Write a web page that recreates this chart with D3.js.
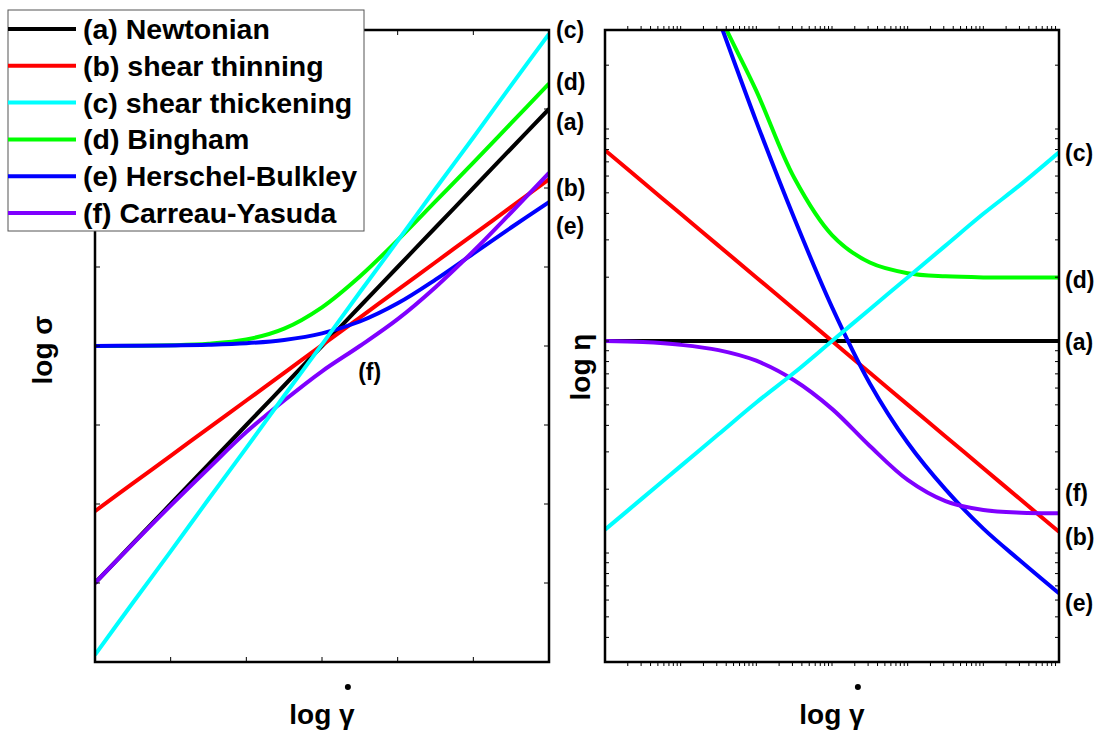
<!DOCTYPE html>
<html>
<head>
<meta charset="utf-8">
<script src="https://cdn.jsdelivr.net/npm/d3@7"></script>
<style>
  body { margin: 0; background: #fff; }
  text { font-family: 'Liberation Sans', Arial, sans-serif; font-weight: bold; fill: #000; }
</style>
</head>
<body>
<svg id="chart" width="1102" height="733"></svg>
<script>
// log shear rate grid (decades) used by both panels
const logShearRate = [0, 0.5, 1, 1.5, 2, 2.5, 3, 3.5, 4, 4.5, 5, 5.5, 6];

// left panel: log stress
const stressNewtonian = [1.0, 1.5, 2.0, 2.5, 3.0, 3.5, 4.0, 4.5, 5.0, 5.5, 6.0, 6.5, 7.0];
const stressThinning  = [1.91, 2.26, 2.61, 2.96, 3.31, 3.66, 4.01, 4.36, 4.71, 5.06, 5.41, 5.76, 6.11];
const stressThickening = [0.09, 0.75, 1.40, 2.06, 2.71, 3.37, 4.02, 4.68, 5.33, 5.99, 6.64, 7.30, 7.95];
const stressBingham   = [4.0, 4.003, 4.009, 4.028, 4.082, 4.22, 4.49, 4.88, 5.34, 5.83, 6.32, 6.82, 7.32];
const stressHB        = [4.0, 4.003, 4.007, 4.016, 4.035, 4.077, 4.16, 4.31, 4.54, 4.84, 5.17, 5.50, 5.82];
const stressCY        = [1.0, 1.495, 1.98, 2.45, 2.91, 3.31, 3.68, 4.0, 4.34, 4.745, 5.2, 5.69, 6.19];

// right panel: log viscosity
const viscNewtonian  = [1, 1, 1, 1, 1, 1, 1, 1, 1, 1, 1, 1, 1];
const viscThinning   = [1.90, 1.75, 1.60, 1.45, 1.30, 1.15, 1.00, 0.85, 0.70, 0.55, 0.40, 0.25, 0.10];
const viscThickening = [0.11, 0.26, 0.41, 0.56, 0.71, 0.85, 1.00, 1.15, 1.30, 1.45, 1.60, 1.74, 1.89];
const viscBingham    = [4.0, 3.5, 3.0, 2.55, 2.18, 1.77, 1.50, 1.37, 1.32, 1.305, 1.30, 1.30, 1.30];
const viscHB         = [4.0, 3.50, 3.01, 2.52, 2.035, 1.58, 1.16, 0.80, 0.52, 0.30, 0.115, -0.04, -0.19];
const viscCY         = [1.0, 0.995, 0.982, 0.957, 0.907, 0.815, 0.68, 0.505, 0.345, 0.245, 0.203, 0.19, 0.188];

const modelNames = ['(a) Newtonian', '(b) shear thinning', '(c) shear thickening',
                    '(d) Bingham', '(e) Herschel-Bulkley', '(f) Carreau-Yasuda'];
const modelColors = ['#000000', '#ff0000', '#00ffff', '#00ff00', '#0000ff', '#7f00ff'];

// curve tags next to each panel: [tag, value]
const stressTags = [['(c)', 8.0], ['(d)', 7.34], ['(a)', 6.84], ['(b)', 6.0], ['(e)', 5.52]];
const viscTags = [['(c)', 1.887], ['(d)', 1.288], ['(a)', 0.995], ['(f)', 0.283], ['(b)', 0.075], ['(e)', -0.236]];

const stressSeries = [stressNewtonian, stressThinning, stressThickening, stressBingham, stressHB, stressCY];
const viscSeries = [viscNewtonian, viscThinning, viscThickening, viscBingham, viscHB, viscCY];
const drawOrder = [0, 1, 3, 4, 5, 2];

const svg = d3.select('#chart');

function panel(id, x, y, series) {
    const [x0, x1] = x.range();
    const [y0, y1] = y.range();

    svg.append('clipPath')
        .attr('id', id)
        .append('rect')
        .attr('x', x0).attr('y', y1)
        .attr('width', x1 - x0).attr('height', y0 - y1);

    const line = d3.line()
        .x((d, i) => x(logShearRate[i]))
        .y(d => y(d))
        .curve(d3.curveCatmullRom);

    svg.append('g')
        .attr('clip-path', `url(#${id})`)
        .selectAll('path')
        .data(drawOrder)
        .join('path')
            .attr('d', i => line(series[i]))
            .attr('fill', 'none')
            .attr('stroke', i => modelColors[i])
            .attr('stroke-width', 4);

    svg.append('rect')
        .attr('x', x0).attr('y', y1)
        .attr('width', x1 - x0).attr('height', y0 - y1)
        .attr('fill', 'none')
        .attr('stroke', '#000')
        .attr('stroke-width', 2.5);
}

// ---- left panel: log stress vs log shear rate
const xL = d3.scaleLinear().domain([0, 6]).range([95, 549]);
const yL = d3.scaleLinear().domain([0, 8]).range([662, 30]);
panel('clipL', xL, yL, stressSeries);

const ticksL = svg.append('g').attr('stroke', '#000').attr('stroke-width', 1);
d3.range(1, 8).forEach(v => {
    ticksL.append('line').attr('x1', 95).attr('x2', 100).attr('y1', yL(v)).attr('y2', yL(v));
    ticksL.append('line').attr('x1', 549).attr('x2', 544).attr('y1', yL(v)).attr('y2', yL(v));
});
d3.range(1, 6).forEach(v => {
    ticksL.append('line').attr('x1', xL(v)).attr('x2', xL(v)).attr('y1', 662).attr('y2', 657);
    ticksL.append('line').attr('x1', xL(v)).attr('x2', xL(v)).attr('y1', 30).attr('y2', 35);
});

// ---- right panel: log viscosity vs log shear rate
const xR = d3.scaleLinear().domain([0, 6]).range([605, 1059]);
const yR = d3.scaleLinear().domain([-0.514, 2.467]).range([662, 30]);
panel('clipR', xR, yR, viscSeries);

const logTicks = (lo, hi) => d3.range(Math.floor(lo), Math.ceil(hi) + 1)
    .flatMap(n => d3.range(1, 10).map(k => n + Math.log10(k)))
    .filter(v => v > lo + 0.01 && v < hi - 0.01);

const ticksR = svg.append('g').attr('stroke', '#000').attr('stroke-width', 1);
logTicks(-0.514, 2.467).forEach(v => {
    ticksR.append('line').attr('x1', 605).attr('x2', 609).attr('y1', yR(v)).attr('y2', yR(v));
    ticksR.append('line').attr('x1', 1059).attr('x2', 1055).attr('y1', yR(v)).attr('y2', yR(v));
});
logTicks(0, 6).forEach(v => {
    ticksR.append('line').attr('x1', xR(v)).attr('x2', xR(v)).attr('y1', 662).attr('y2', 666);
    ticksR.append('line').attr('x1', xR(v)).attr('x2', xR(v)).attr('y1', 30).attr('y2', 26);
});

// ---- curve tags
svg.append('g').selectAll('text')
    .data(stressTags)
    .join('text')
        .attr('x', 556)
        .attr('y', d => yL(d[1]))
        .attr('dy', '0.35em')
        .attr('font-size', 23)
        .text(d => d[0]);

svg.append('text')
    .attr('x', xL(3.63)).attr('y', yL(3.67))
    .attr('dy', '0.35em')
    .attr('text-anchor', 'middle')
    .attr('font-size', 23)
    .text('(f)');

svg.append('g').selectAll('text')
    .data(viscTags)
    .join('text')
        .attr('x', 1065)
        .attr('y', d => yR(d[1]))
        .attr('dy', '0.35em')
        .attr('font-size', 23)
        .text(d => d[0]);

// ---- axis titles
function xTitle(cx) {
    const t = svg.append('text')
        .attr('x', cx).attr('y', 724)
        .attr('text-anchor', 'middle')
        .attr('font-size', 28)
        .text('log γ');
    const box = t.node().getExtentOfChar(4);
    svg.append('circle')
        .attr('cx', box.x + box.width / 2 + 1)
        .attr('cy', 687)
        .attr('r', 3);
}
xTitle(322);
xTitle(832);

svg.append('text')
    .attr('transform', 'translate(52,350) rotate(-90)')
    .attr('text-anchor', 'middle')
    .attr('font-size', 28)
    .text('log σ');

svg.append('text')
    .attr('transform', 'translate(590,367) rotate(-90)')
    .attr('text-anchor', 'middle')
    .attr('font-size', 28)
    .text('log η');

// ---- legend
const legend = svg.append('g');
legend.append('rect')
    .attr('x', 8).attr('y', 10)
    .attr('width', 356).attr('height', 221)
    .attr('fill', '#fff')
    .attr('stroke', '#555')
    .attr('stroke-width', 1);

const rows = legend.selectAll('g.row')
    .data(modelNames)
    .join('g')
        .attr('class', 'row')
        .attr('transform', (d, i) => `translate(0, ${29 + i * 36.8})`);

rows.append('line')
    .attr('x1', 8).attr('x2', 76)
    .attr('stroke', (d, i) => modelColors[i])
    .attr('stroke-width', 4);

rows.append('text')
    .attr('x', 83)
    .attr('dy', '0.35em')
    .attr('font-size', 28.5)
    .text(d => d);
</script>
</body>
</html>
